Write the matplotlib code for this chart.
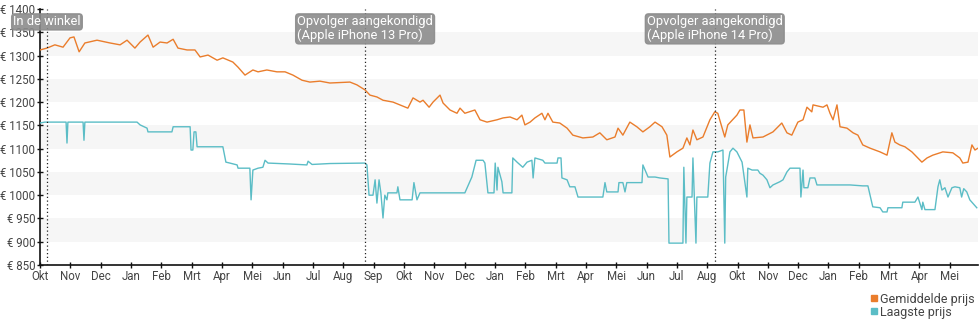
import matplotlib
matplotlib.use('Agg')
import matplotlib.pyplot as plt
from matplotlib.lines import Line2D

plt.rcParams['font.family'] = ['Roboto', 'DejaVu Sans']

# x = maanden sinds begin okt (0 = Okt)
gem_x = [0.00, 0.23, 0.49, 0.76, 0.99, 1.12, 1.29, 1.48, 1.88, 2.31, 2.64, 2.87, 3.13, 3.30, 3.56,
         3.73, 3.96, 4.19, 4.39, 4.55, 4.85, 5.11, 5.28, 5.54, 5.84, 6.03, 6.36, 6.53, 6.76, 7.02,
         7.19, 7.48, 7.81, 8.08, 8.34, 8.64, 8.90, 9.23, 9.56, 10.22, 10.45, 10.72, 10.88, 11.11,
         11.31, 11.64, 11.87, 12.13, 12.30, 12.53, 12.63, 12.83, 12.96, 13.19, 13.29, 13.52, 13.75,
         13.85, 14.01, 14.34, 14.51, 14.74, 15.07, 15.27, 15.50, 15.73, 15.89, 15.99, 16.16, 16.32,
         16.55, 16.65, 16.75, 16.91, 17.14, 17.38, 17.57, 17.90, 18.23, 18.46, 18.69, 18.96, 19.06,
         19.22, 19.45, 19.68, 19.88, 20.11, 20.28, 20.51, 20.67, 20.77, 21.00, 21.20, 21.33, 21.43,
         21.53, 21.66, 21.86, 22.09, 22.25, 22.35, 22.58, 22.68, 22.98, 23.08, 23.21, 23.31, 23.41,
         23.51, 23.84, 24.17, 24.46, 24.63, 24.79, 24.99, 25.16, 25.29, 25.45, 25.49, 25.82, 25.95,
         26.05, 26.15, 26.28, 26.38, 26.61, 26.81, 26.97, 27.13, 27.37, 27.70, 27.93, 28.09, 28.19,
         28.35, 28.52, 28.75, 29.08, 29.25, 29.44, 29.77, 30.10, 30.33, 30.43, 30.60, 30.73, 30.83,
         30.93]
gem_prijs = [1312, 1316, 1323, 1318, 1338, 1340, 1308, 1327, 1333, 1327, 1323, 1333, 1316, 1329, 1344,
             1318, 1329, 1327, 1335, 1316, 1312, 1312, 1297, 1301, 1290, 1295, 1286, 1275, 1258, 1269,
             1265, 1269, 1265, 1265, 1258, 1247, 1243, 1245, 1241, 1243, 1237, 1226, 1215, 1211,
             1204, 1200, 1194, 1187, 1209, 1200, 1204, 1189, 1200, 1215, 1198, 1183, 1176,
             1187, 1176, 1183, 1162, 1157, 1162, 1166, 1168, 1162, 1172, 1151, 1157, 1166,
             1176, 1162, 1176, 1157, 1155, 1144, 1129, 1123, 1125, 1134, 1119, 1125, 1144,
             1129, 1157, 1147, 1136, 1147, 1157, 1147, 1129, 1082, 1093, 1101, 1123, 1108,
             1140, 1119, 1125, 1162, 1179, 1176, 1125, 1151, 1172, 1183, 1183, 1114, 1151,
             1123, 1125, 1136, 1155, 1134, 1129, 1157, 1162, 1189, 1179, 1194, 1189, 1194,
             1176, 1162, 1194, 1147, 1144, 1134, 1129, 1108, 1101, 1093, 1086, 1134, 1114,
             1108, 1104, 1093, 1071, 1080, 1086, 1093, 1091, 1080, 1069, 1071, 1108, 1097,
             1101]

laag_x = [0.00, 0.16, 0.86, 0.89, 0.92, 1.42, 1.45, 1.48, 3.20, 3.30, 3.53, 3.56, 4.35, 4.39, 4.95,
          4.98, 5.04, 5.08, 5.14, 5.18, 6.03, 6.13, 6.26, 6.50, 6.53, 6.92, 6.96, 7.02, 7.19, 7.35,
          7.42, 7.52, 8.24, 8.80, 8.84, 8.97, 9.56, 10.72, 10.78, 10.85, 10.98, 11.05, 11.11, 11.18,
          11.24, 11.31, 11.37, 11.44, 11.47, 11.77, 11.80, 11.87, 12.27, 12.33, 12.43, 12.53, 14.01,
          14.24, 14.38, 14.61, 14.67, 14.77, 14.97, 15.01, 15.07, 15.10, 15.23, 15.27, 15.56, 15.59,
          15.73, 15.92, 16.06, 16.22, 16.26, 16.32, 16.58, 16.65, 17.05, 17.08, 17.18, 17.21, 17.38,
          17.47, 17.64, 17.74, 18.56, 18.63, 18.69, 19.06, 19.09, 19.22, 19.29, 19.35, 19.85, 19.88,
          20.05, 20.28, 20.44, 20.71, 20.74, 21.20, 21.23, 21.30, 21.33, 21.50, 21.53, 21.63, 21.66,
          22.02, 22.09, 22.19, 22.35, 22.52, 22.58, 22.61, 22.65, 22.75, 22.85, 22.98, 23.15, 23.31,
          23.34, 23.48, 23.67, 23.74, 23.84, 23.97, 24.07, 24.17, 24.40, 24.50, 24.63, 24.73, 25.06,
          25.09, 25.16, 25.19, 25.32, 25.39, 25.55, 25.62, 26.71, 27.13, 27.30, 27.37, 27.46, 27.70,
          27.79, 27.93, 27.96, 28.42, 28.45, 28.85, 28.95, 29.08, 29.11, 29.18, 29.51, 29.61, 29.67,
          29.74, 29.84, 29.94, 30.07, 30.17, 30.33, 30.39, 30.46, 30.56, 30.66, 30.89]
laag_prijs = [1155, 1157, 1157, 1112, 1157, 1157, 1118, 1157, 1157, 1151, 1144, 1136, 1136, 1147, 1147,
              1097, 1097, 1136, 1136, 1104, 1104, 1071, 1069, 1065, 1058, 1058, 990, 1054, 1058, 1060,
              1075, 1069, 1067, 1065, 1073, 1066, 1068, 1069, 1065, 1000, 1000, 1033, 983, 1033,
              1005, 951, 1000, 990, 1005, 1005, 1018, 990, 990, 1027, 990, 1005, 1005,
              1039, 1075, 1075, 1069, 1005, 1005, 1069, 1011, 1060, 1029, 1005, 1005, 1080,
              1071, 1060, 1071, 1075, 1037, 1080, 1075, 1069, 1069, 1080, 1080, 1037, 1033,
              1018, 1018, 996, 996, 1027, 1007, 1007, 1027, 1027, 1007, 1027, 1027, 1065,
              1039, 1039, 1037, 1035, 897, 897, 1060, 897, 996, 996, 1080, 897, 996,
              996, 1069, 1093, 1093, 1097, 897, 1039, 1054, 1093, 1101, 1093, 1071, 996,
              1058, 1054, 1054, 1047, 1043, 1033, 1016, 1022, 1029, 1033, 1050, 1058, 1058,
              996, 1054, 1016, 1016, 1037, 1037, 1022, 1022, 1020, 1020, 1000, 975, 973,
              964, 964, 973, 973, 985, 985, 996, 969, 985, 969, 969, 1018, 1033,
              1011, 1016, 996, 1016, 1018, 1016, 996, 1014, 1007, 990, 973]

maanden = ['Okt', 'Nov', 'Dec', 'Jan', 'Feb', 'Mrt', 'Apr', 'Mei', 'Jun', 'Jul', 'Aug', 'Sep',
           'Okt', 'Nov', 'Dec', 'Jan', 'Feb', 'Mrt', 'Apr', 'Mei', 'Jun', 'Jul', 'Aug',
           'Okt', 'Nov', 'Dec', 'Jan', 'Feb', 'Mrt', 'Apr', 'Mei']
y_ticks = [850, 900, 950, 1000, 1050, 1100, 1150, 1200, 1250, 1300, 1350, 1400]

gebeurtenis_x = [0.23, 10.72, 22.25]
gebeurtenis_tekst = ['In de winkel', 'Opvolger aangekondigd\n(Apple iPhone 13 Pro)',
                     'Opvolger aangekondigd\n(Apple iPhone 14 Pro)']

oranje = '#ea7d2c'
blauw = '#5bbdc6'

fig = plt.figure(figsize=(9.8, 3.25), dpi=100)
ax = fig.add_axes([40/980, 60/325, 938/980, 256/325])

# grijze banden
for lo in [900, 1000, 1100, 1200, 1300]:
    ax.axhspan(lo, lo + 50, color='#f6f6f6', lw=0, zorder=0)

ax.plot(gem_x, gem_prijs, color=oranje, lw=1.0, zorder=3)
ax.plot(laag_x, laag_prijs, color=blauw, lw=1.0, zorder=3)

for x, t in zip(gebeurtenis_x, gebeurtenis_tekst):
    ax.axvline(x, color='#222222', lw=0.9, ls=(0, (1, 2)), zorder=4)
    ax.text(x, 0.975, t, transform=ax.get_xaxis_transform(), ha='center', va='top',
            multialignment='left', color='white', fontsize=9.3, zorder=5, linespacing=1.05,
            bbox=dict(boxstyle='round,pad=0.12,rounding_size=0.25', fc='#8c8c8c',
                      ec='#8c8c8c', alpha=0.9))

ax.set_xlim(0, 30.93)
ax.set_ylim(850, 1400)
ax.set_xticks(range(len(maanden)))
ax.set_xticklabels(maanden)
ax.set_yticks(y_ticks)
ax.set_yticklabels([f'€ {v}' for v in y_ticks])
ax.tick_params(axis='both', direction='inout', length=5, width=1, colors='#111111',
               labelcolor='#444444', labelsize=8.3, pad=1)
for s in ['top', 'right']:
    ax.spines[s].set_visible(False)
for s in ['left', 'bottom']:
    ax.spines[s].set_linewidth(1.2)
    ax.spines[s].set_color('#111111')

handles = [Line2D([], [], marker='s', ls='', color=oranje, markersize=5),
           Line2D([], [], marker='s', ls='', color=blauw, markersize=5)]
fig.legend(handles, ['Gemiddelde prijs', 'Laagste prijs'], loc='upper right',
           bbox_to_anchor=(1.0, 0.115), frameon=False, fontsize=9, labelcolor='#444444',
           handlelength=0.6, handletextpad=0.2, labelspacing=0.0, borderpad=0.2,
           borderaxespad=0.2)

plt.savefig('out.png', dpi=100)
